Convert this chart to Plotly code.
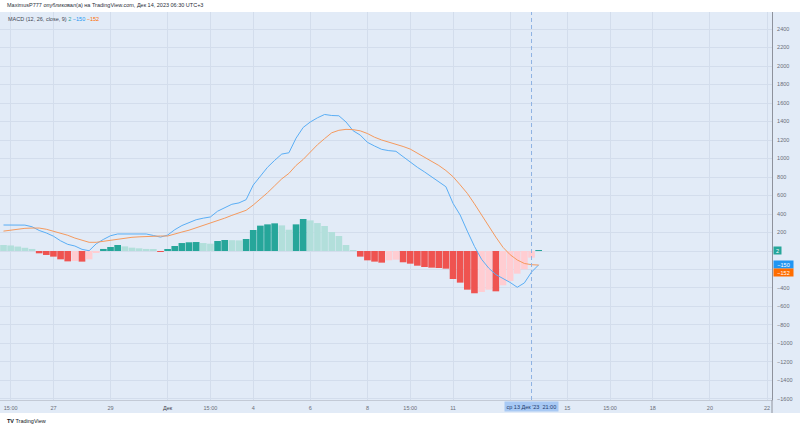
import pandas as pd
import plotly.graph_objects as go

# ---- data (MACD 12,26,9 on 6h bars) ----
start_time = "2023-11-25 09:00"
hist = [65, 60, 48, 35, 22, -25, -43, -61, -90, -112,
        -108, -115, -90, -18, 22, 43, 65, 50, 36, 29,
        22, 11, -10, 18, 54, 86, 94, 97, 86, 79,
        108, 119, 117, 115, 130, 227, 274, 288, 299, 277,
        230, 288, 346, 331, 302, 270, 205, 162, 65, 2,
        -61, -101, -115, -126, -101, -94, -122, -137, -159, -173,
        -180, -184, -191, -303, -342, -418, -457, -443, -418, -436,
        -371, -324, -245, -198, -72, 2]
macd = [281, 281, 281, 280, 262, 222, 195, 160, 110, 72,
        54, 18, 3, 78, 125, 165, 184, 184, 184, 184,
        184, 168, 150, 172, 230, 275, 310, 338, 355, 368,
        430, 470, 505, 520, 555, 713, 810, 905, 980, 1048,
        1062, 1220, 1336, 1395, 1440, 1476, 1465, 1462, 1395, 1300,
        1253, 1175, 1135, 1099, 1085, 1078, 1020, 960, 905, 855,
        803, 750, 695, 515, 389, 215, 50, -90, -185, -255,
        -295, -340, -392, -345, -228, -150]
signal = [215, 225, 238, 245, 248, 248, 235, 215, 193, 170,
          140, 115, 94, 94, 105, 119, 128, 138, 148, 153,
          158, 162, 162, 162, 180, 205, 225, 250, 275, 298,
          322, 355, 385, 410, 440, 497, 560, 630, 705, 780,
          839, 925, 990, 1073, 1149, 1215, 1278, 1305, 1315, 1312,
          1299, 1270, 1230, 1200, 1178, 1160, 1130, 1102, 1060, 1015,
          970, 925, 870, 803, 715, 623, 510, 390, 260, 150,
          40, -40, -97, -135, -148, -152]

x_tick_times = ["2023-11-25 15:00", "2023-11-27 03:00", "2023-11-29 03:00",
                "2023-12-01 03:00", "2023-12-02 15:00", "2023-12-04 03:00",
                "2023-12-06 03:00", "2023-12-08 03:00", "2023-12-09 15:00",
                "2023-12-11 03:00", "2023-12-13 03:00", "2023-12-15 03:00",
                "2023-12-16 15:00", "2023-12-18 03:00", "2023-12-20 03:00",
                "2023-12-22 03:00"]
x_tick_text = ["15:00", "27", "29", "<span style='color:#3c404b'>Дек</span>", "15:00",
               "4", "6", "8", "15:00", "11", "", "15", "15:00", "18", "20", "22"]
y_tick_vals = list(range(-1600, 2401, 200))
# the 0 and -200 labels are hidden behind the last-value badges on the price scale
y_hidden = [0, -200]
y_tick_text = ["" if v in y_hidden else (("−" + str(abs(v))) if v < 0 else str(v))
               for v in y_tick_vals]

crosshair_time = "2023-12-13 21:00"
crosshair_text = "ср 13 Дек '23  21:00"
header_text = "MaximusP777 опубликовал(а) на TradingView.com, Дек 14, 2023 06:30 UTC+3"
last_hist, last_macd, last_signal = "2", "−150", "−152"

# ---- colours ----
BG = "#e2ebf7"
GRID = "#d3ddec"
C_UP_POS = "#26a69a"
C_DN_POS = "#b2dfdb"
C_UP_NEG = "#ffcdd2"
C_DN_NEG = "#ef5350"
C_MACD = "#2196f3"
C_SIG = "#ff6d00"
TXT = "#6a6d78"

times = pd.date_range(start_time, periods=len(hist), freq="6h")
bar_colors = []
for i, v in enumerate(hist):
    prev = hist[i - 1] if i > 0 else v + 1
    if v >= 0:
        bar_colors.append(C_UP_POS if v > prev else C_DN_POS)
    else:
        bar_colors.append(C_UP_NEG if v > prev else C_DN_NEG)

t0 = pd.Timestamp(start_time)
step = pd.Timedelta(hours=6)
x_range = [t0 - 0.49 * step, t0 + 107.7 * step]
y_range = [-1611, 2584]

fig = go.Figure()
fig.add_trace(go.Bar(x=times, y=hist, marker=dict(color=bar_colors, line=dict(width=0)),
                     showlegend=False, hoverinfo="skip"))
fig.add_trace(go.Scatter(x=times, y=macd, mode="lines",
                         line=dict(color="#5aaef5", width=1), showlegend=False))
fig.add_trace(go.Scatter(x=times, y=signal, mode="lines",
                         line=dict(color="#f59a5e", width=1), showlegend=False))

PW = 772.0
PH = 388.0

fig.update_layout(
    width=800, height=429,
    margin=dict(l=0, r=28, t=12, b=29),
    paper_bgcolor="white",
    plot_bgcolor=BG,
    bargap=0.07,
    font=dict(family="Liberation Sans, Arial, sans-serif", size=6, color=TXT),
    xaxis=dict(type="date", range=x_range, tickvals=x_tick_times, ticktext=x_tick_text,
               showgrid=True, gridcolor=GRID, gridwidth=1, zeroline=False,
               showline=True, linecolor="#c3cad6", linewidth=1,
               ticks="", tickfont=dict(size=5.5, color=TXT), ticklabelstandoff=2),
    yaxis=dict(side="right", range=y_range, tickvals=y_tick_vals, ticktext=y_tick_text,
               showgrid=True, gridcolor=GRID, gridwidth=1, zeroline=False,
               showline=True, linecolor="#8e929c", linewidth=1,
               ticks="", tickfont=dict(size=5.5, color=TXT), ticklabelstandoff=3),
)

# axis band backgrounds (right price scale and bottom time scale)
fig.add_shape(type="rect", xref="paper", yref="paper", x0=1.0, x1=800 / PW,
              y0=-13 / PH, y1=1.0, fillcolor=BG, line=dict(width=0), layer="below")
fig.add_shape(type="rect", xref="paper", yref="paper", x0=0, x1=1.0,
              y0=-13 / PH, y1=0, fillcolor=BG, line=dict(width=0), layer="below")
# price-scale border continues through the time-scale band
fig.add_shape(type="line", xref="paper", yref="paper", x0=1.0, x1=1.0,
              y0=-13 / PH, y1=0, line=dict(color="#8e929c", width=1))

# crosshair
fig.add_shape(type="line", xref="x", yref="paper", x0=crosshair_time, x1=crosshair_time,
              y0=0, y1=1, line=dict(color="#8fb2e3", width=1, dash="4px,3px"))

annotations = []
annotations.append(dict(xref="x", yref="paper", x=crosshair_time, y=-6.5 / PH,
                        text=crosshair_text, showarrow=False, bgcolor="#a8c9f4",
                        font=dict(size=5.5, color="#1d3b6e"), borderpad=1.5,
                        xanchor="center", yanchor="middle"))
annotations.append(dict(xref="paper", yref="paper", x=5 / PW, y=1 + 7 / PH,
                        text=header_text, showarrow=False, xanchor="left", yanchor="middle",
                        font=dict(size=5.5, color="#2a2e39")))
annotations.append(dict(xref="paper", yref="paper", x=6 / PW, y=1 - 7 / PH,
                        text=("MACD (12, 26, close, 9) "
                              f"<span style='color:{C_UP_POS}'>{last_hist}</span> "
                              f"<span style='color:{C_MACD}'>{last_macd}</span> "
                              f"<span style='color:{C_SIG}'>{last_signal}</span>"),
                        showarrow=False, xanchor="left", yanchor="middle",
                        font=dict(size=5.5, color="#434651")))
annotations.append(dict(xref="paper", yref="paper", x=5 / PW, y=-21 / PH,
                        text="<b>TV</b> TradingView", showarrow=False, xanchor="left",
                        yanchor="middle", font=dict(size=5.5, color="#131722")))
# price-scale value labels
annotations.append(dict(xref="paper", yref="y", x=1 + 1 / PW, y=3, text=last_hist,
                        showarrow=False, xanchor="left", yanchor="middle", bgcolor=C_UP_POS,
                        font=dict(size=5.5, color="white"), borderpad=0, width=7, height=7))
annotations.append(dict(xref="paper", yref="y", x=1 + 1 / PW, y=-146, text=last_macd,
                        showarrow=False, xanchor="left", yanchor="middle", bgcolor=C_MACD,
                        font=dict(size=5.5, color="white"), borderpad=0, width=19, height=7))
annotations.append(dict(xref="paper", yref="y", x=1 + 1 / PW, y=-236, text=last_signal,
                        showarrow=False, xanchor="left", yanchor="middle", bgcolor=C_SIG,
                        font=dict(size=5.5, color="white"), borderpad=0, width=19, height=7))
fig.update_layout(annotations=annotations)

fig.write_html("out.html")
